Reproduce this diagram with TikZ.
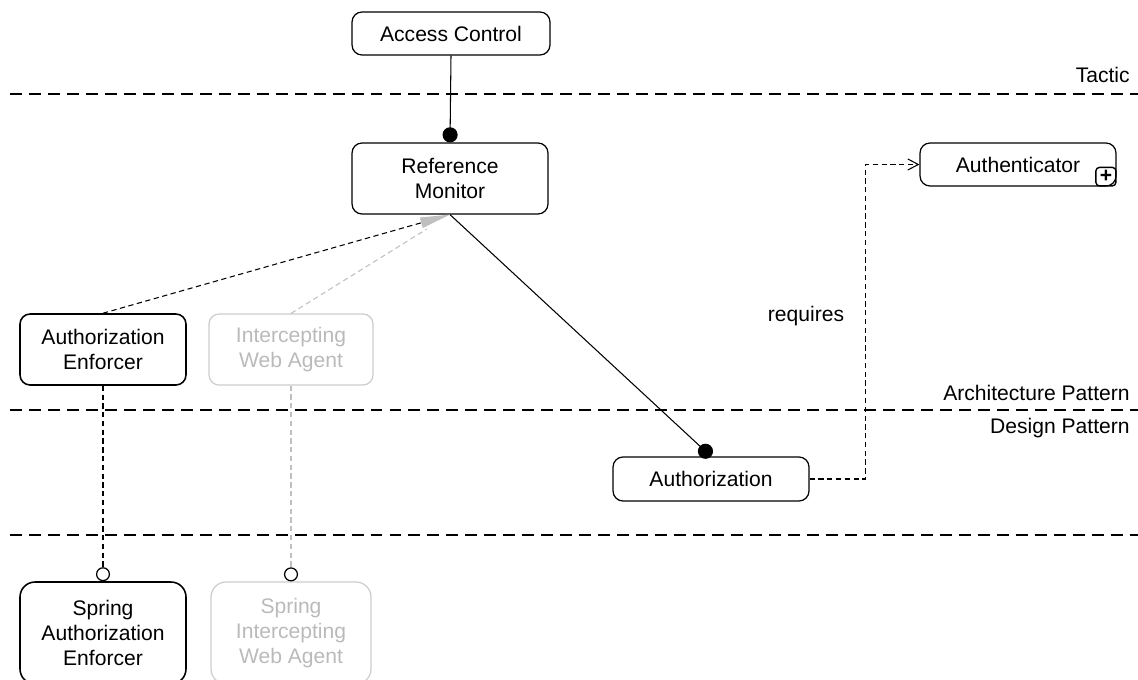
\documentclass[tikz,border=0pt]{standalone}
\usepackage{fontspec}
\setmainfont{Liberation Sans}
\usepackage{tikz}
\usetikzlibrary{arrows.meta, calc}
\tikzstyle{block} = [draw, rounded corners=0.2cm, line width=0.7pt, align=center, inner sep=0pt, font=\fontsize{12}{14.3}\selectfont]
\tikzstyle{faded} = [block, draw=black!20, text=black!27]
\tikzstyle{layer} = [line width=1.6pt, dash pattern=on 6.8pt off 4pt]
\tikzstyle{dep} = [line width=0.6pt, dash pattern=on 3pt off 2pt]
\tikzstyle{layername} = [anchor=east, inner sep=0pt, font=\fontsize{12}{14.3}\selectfont]

\begin{document}
\begin{tikzpicture}[x=0.02cm, y=-0.02cm]
	\useasboundingbox (0,0) rectangle (1138,679);
	% layer separators
	\draw[layer] (10,94) -- (1138,94);
	\draw[layer] (10,410) -- (1138,410);
	\draw[layer] (10,535) -- (1138,535);
	\node[layername] (tactic) at (1130,75) {Tactic};
	\node[layername] (arch) at (1130,393) {Architecture Pattern};
	\node[layername] (design) at (1130,428) {Design Pattern};

	% elements
	\node[block, minimum width=3.96cm, minimum height=0.86cm] (ac) at (451,33.5) {Access Control};
	\node[block, minimum width=3.92cm, minimum height=1.42cm] (rm) at (450,178.5) {Reference\\Monitor};
	\node[block, minimum width=3.92cm, minimum height=0.86cm] (authn) at (1018,164.5) {Authenticator};
	\node[draw, rounded corners=0.07cm, line width=0.8pt, anchor=south east, minimum width=0.4cm, minimum height=0.37cm, inner sep=0pt, font=\bfseries\fontsize{12}{12}\selectfont] (plus) at (authn.south east) {+};
	\node[block, line width=0.9pt, minimum width=3.32cm, minimum height=1.42cm] (ae) at (103,349.5) {Authorization\\Enforcer};
	\node[faded, minimum width=3.28cm, minimum height=1.42cm] (iwa) at (291,349.5) {Intercepting\\Web Agent};
	\node[block, minimum width=3.92cm, minimum height=0.88cm] (authz) at (711,479) {Authorization};
	\node[block, line width=0.9pt, rounded corners=0.3cm, minimum width=3.32cm, minimum height=2.04cm] (sae) at (103,633) {Spring\\Authorization\\Enforcer};
	\node[faded, rounded corners=0.3cm, minimum width=3.2cm, minimum height=2.04cm] (siwa) at (291,633) {Spring\\Intercepting\\Web Agent};
	\node[font=\fontsize{12}{14.3}\selectfont] (req) at (806,316) {requires};

	% connectors
	\draw[line width=0.6pt, -{Circle[length=8.6pt]}] (ac.south) -- (rm.north);
	\draw[line width=0.6pt, -{Circle[length=8.6pt]}] (rm.south) -- (authz.north);
	\draw[dep, draw=black!25, shorten >=0.55cm] (iwa.north) -- (rm.south);
	\draw[dep, -{Triangle[length=17pt, width=6pt, color=black!25]}] (ae.north) -- (rm.south);
	\draw[dep, -{Circle[open, length=8pt, line width=0.7pt]}] (ae.south) -- (sae.north);
	\draw[dep, draw=black!25, -{Circle[color=black, open, length=8pt, line width=0.7pt]}] (iwa.south) -- (siwa.north);
	\draw[dep, -{Straight Barb[length=6pt, width=6.3pt, line width=0.6pt]}] (authz.east) -- ++(56,0) |- (authn.west);
\end{tikzpicture}
\end{document}
